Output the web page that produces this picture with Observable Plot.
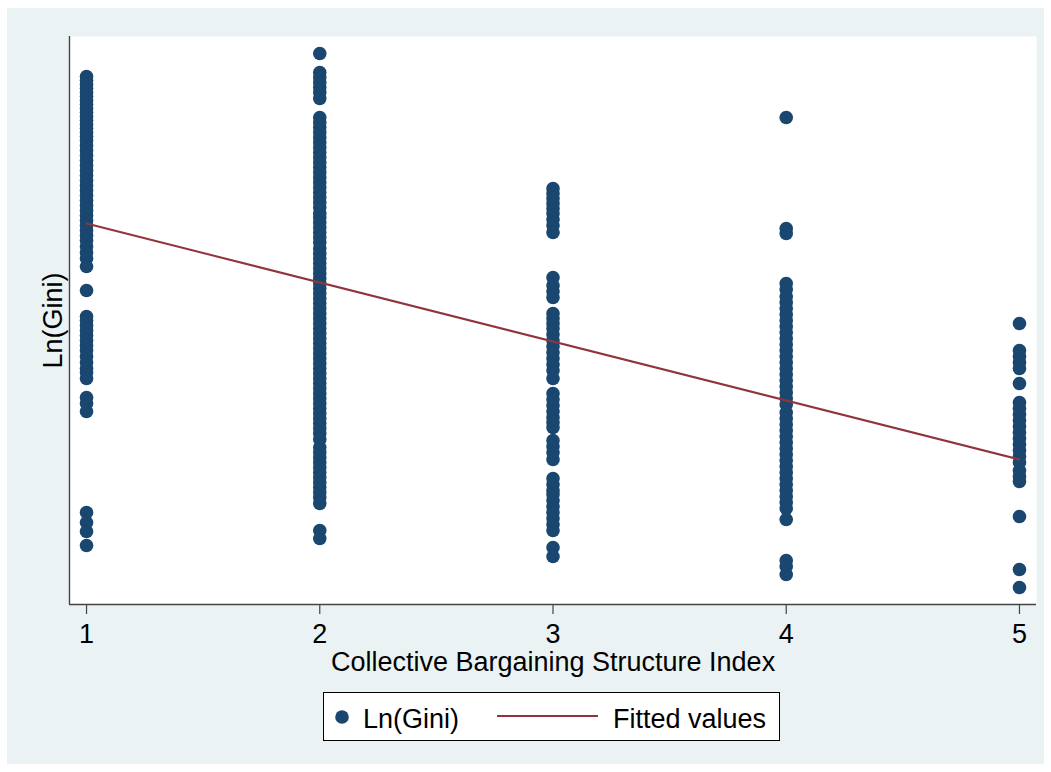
<!DOCTYPE html>
<html>
<head>
<meta charset="utf-8">
<script src="https://cdn.jsdelivr.net/npm/d3@7"></script>
<script src="https://cdn.jsdelivr.net/npm/@observablehq/plot@0.6"></script>
<style>
  html, body { margin: 0; padding: 0; background: #ffffff; }
  #page { position: relative; width: 1051px; height: 772px; background: #ffffff; font-family: "Liberation Sans", Arial, sans-serif; }
  #bg { position: absolute; left: 7px; top: 8px; width: 1037px; height: 756px; background: #eaf2f3; }
  #chart { position: absolute; left: 0; top: 0; }
  #legend { position: absolute; left: 323px; top: 692px; width: 457px; height: 49px; box-sizing: border-box; border: 1px solid #000; background: #fff; }
  #legend svg { display: block; }
</style>
</head>
<body>
<div id="page">
  <div id="bg"></div>
  <div id="chart"></div>
  <div id="legend"></div>
</div>
<script>
// ---- Data ----
const cbsiLevels = [1, 2, 3, 4, 5];
const xTickLabels = ["1", "2", "3", "4", "5"];
const xTitle = "Collective Bargaining Structure Index";
const yTitle = "Ln(Gini)";
const seriesName = "Ln(Gini)";
const fitName = "Fitted values";

// Ln(Gini) observations per index level
const lnGiniAt1 = [-0.726, -0.730, -0.734, -0.738, -0.742, -0.746, -0.750, -0.754, -0.758, -0.762,
  -0.766, -0.770, -0.774, -0.778, -0.782, -0.786, -0.790, -0.795, -0.800, -0.805, -0.810, -0.815,
  -0.820, -0.825, -0.830, -0.835, -0.840, -0.845, -0.850, -0.855, -0.860, -0.865, -0.870, -0.875,
  -0.880, -0.885, -0.890, -0.896, -0.902, -0.908, -0.916, -0.940, -0.966, -0.970, -0.975, -0.980,
  -0.985, -0.990, -0.995, -1.000, -1.006, -1.012, -1.018, -1.022, -1.028, -1.047, -1.053, -1.061,
  -1.162, -1.172, -1.181, -1.195];
const lnGiniAt2 = [-0.703, -0.722, -0.727, -0.732, -0.737, -0.742, -0.748,
  -0.767, -0.772, -0.777, -0.782, -0.787, -0.792, -0.797, -0.802, -0.807, -0.812, -0.817, -0.822,
  -0.827, -0.832, -0.837, -0.842, -0.847, -0.852, -0.857, -0.863, -0.867, -0.872, -0.877, -0.882,
  -0.887, -0.892, -0.898, -0.903, -0.908, -0.913, -0.918, -0.923, -0.928, -0.933, -0.938, -0.943,
  -0.948, -0.953, -0.958, -0.963, -0.968, -0.973, -0.978, -0.983, -0.988, -0.993, -0.998, -1.003,
  -1.008, -1.013, -1.018, -1.023, -1.028, -1.033, -1.038, -1.043, -1.048, -1.053, -1.058, -1.063,
  -1.068, -1.073, -1.078, -1.083, -1.089, -1.097, -1.102, -1.107, -1.112, -1.117, -1.122, -1.127,
  -1.132, -1.137, -1.142, -1.147, -1.153, -1.180, -1.188];
const lnGiniAt3 = [-0.838, -0.843, -0.848, -0.853, -0.858, -0.863, -0.869, -0.875, -0.882,
  -0.927, -0.935, -0.941, -0.947,
  -0.963, -0.968, -0.973, -0.978, -0.984, -0.990, -0.996, -1.002, -1.008, -1.014, -1.020, -1.028,
  -1.043, -1.049, -1.055, -1.061, -1.067, -1.072, -1.077,
  -1.090, -1.096, -1.102, -1.109,
  -1.128, -1.134, -1.140, -1.144, -1.150, -1.156, -1.162, -1.168, -1.174, -1.180,
  -1.197, -1.206];
const lnGiniAt4 = [-0.767, -0.878, -0.883,
  -0.933, -0.939, -0.946, -0.952, -0.958, -0.964, -0.970, -0.976, -0.982, -0.988, -0.994, -1.000,
  -1.006, -1.012, -1.018, -1.024, -1.030, -1.036, -1.042, -1.048, -1.054, -1.062, -1.068, -1.074,
  -1.080, -1.086, -1.092, -1.098, -1.104, -1.110, -1.116, -1.122, -1.128, -1.134, -1.140, -1.146,
  -1.152, -1.158, -1.169, -1.210, -1.216, -1.224];
const lnGiniAt5 = [-0.973, -1.000, -1.006, -1.012, -1.018, -1.033,
  -1.052, -1.058, -1.064, -1.070, -1.076, -1.082, -1.088, -1.094, -1.100, -1.106, -1.112, -1.120,
  -1.126, -1.131, -1.166, -1.219, -1.237];

// Fitted values line (endpoints)
const fittedX = [1, 5];
const fittedY = [-0.873, -1.109];

// ---- Build tables ----
const groups = [lnGiniAt1, lnGiniAt2, lnGiniAt3, lnGiniAt4, lnGiniAt5];
const points = groups.flatMap((arr, i) => arr.map(v => ({cbsi: cbsiLevels[i], lngini: v})));
const fitted = fittedX.map((x, i) => ({cbsi: x, fit: fittedY[i]}));

const xDomain = [0.927, 5.073];
const yDomain = [-1.254, -0.686];
const navy = "#1a476f";
const maroon = "#90353b";
const axisColor = "#444444";
const font = "'Liberation Sans', Arial, sans-serif";

const chart = Plot.plot({
  width: 1051,
  height: 690,
  marginLeft: 69,
  marginRight: 15,
  marginTop: 36,
  marginBottom: 86,
  style: {background: "transparent", fontFamily: font, fontSize: "27px", color: "#000"},
  x: {domain: xDomain},
  y: {domain: yDomain, axis: null},
  marks: [
    Plot.frame({fill: "white", stroke: "none"}),
    Plot.dot(points, {x: "cbsi", y: "lngini", r: 6.8, fill: navy, stroke: "none"}),
    Plot.line(fitted, {x: "cbsi", y: "fit", stroke: maroon, strokeWidth: 2}),
    Plot.ruleX([xDomain[0]], {stroke: axisColor, strokeWidth: 1.4}),
    Plot.ruleY([yDomain[0]], {stroke: axisColor, strokeWidth: 1.4}),
    Plot.axisX(cbsiLevels, {
      tickSize: 10, tickPadding: 9, stroke: axisColor, strokeWidth: 1.2,
      fontSize: 27, fill: "#000", label: null,
      tickFormat: (d) => xTickLabels[cbsiLevels.indexOf(d)]
    }),
    Plot.text([xTitle], {frameAnchor: "bottom", text: d => d, dy: 66, fontSize: 27, fill: "#000"}),
    Plot.text([yTitle], {frameAnchor: "left", text: d => d, rotate: -90, dx: -16, textAnchor: "middle", lineAnchor: "middle", fontSize: 27, fill: "#000"})
  ]
});
document.getElementById("chart").appendChild(chart);

// ---- Legend ----
const ns = "http://www.w3.org/2000/svg";
const lg = document.createElementNS(ns, "svg");
lg.setAttribute("width", 455);
lg.setAttribute("height", 47);
lg.style.fontFamily = font;
const circ = document.createElementNS(ns, "circle");
circ.setAttribute("cx", 18); circ.setAttribute("cy", 24); circ.setAttribute("r", 6.8);
circ.setAttribute("fill", navy);
lg.appendChild(circ);
const t1 = document.createElementNS(ns, "text");
t1.setAttribute("x", 39); t1.setAttribute("y", 35); t1.setAttribute("font-size", 27);
t1.textContent = seriesName;
lg.appendChild(t1);
const ln = document.createElementNS(ns, "line");
ln.setAttribute("x1", 173); ln.setAttribute("x2", 274); ln.setAttribute("y1", 23); ln.setAttribute("y2", 23);
ln.setAttribute("stroke", maroon); ln.setAttribute("stroke-width", 2);
lg.appendChild(ln);
const t2 = document.createElementNS(ns, "text");
t2.setAttribute("x", 289); t2.setAttribute("y", 35); t2.setAttribute("font-size", 27);
t2.textContent = fitName;
lg.appendChild(t2);
document.getElementById("legend").appendChild(lg);
</script>
</body>
</html>
